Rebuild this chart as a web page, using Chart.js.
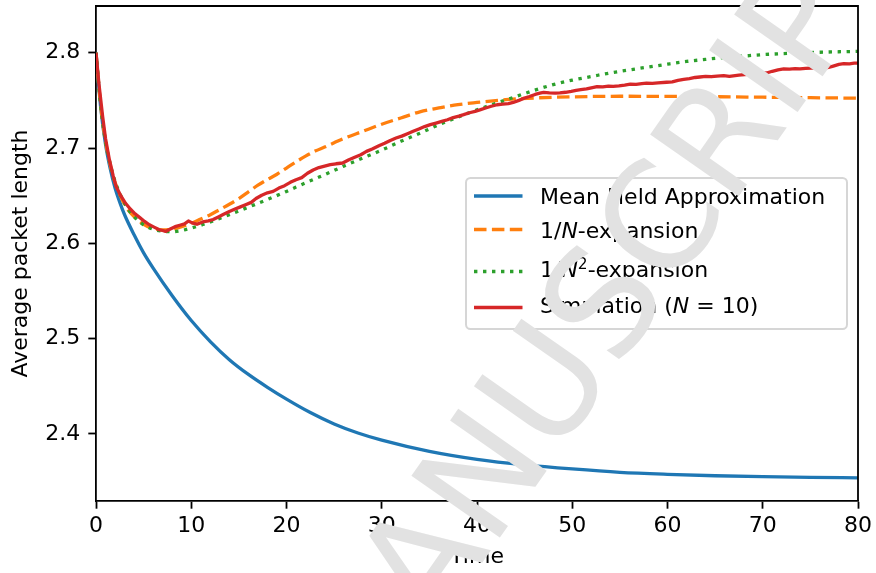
<!DOCTYPE html>
<html>
<head>
<meta charset="utf-8">
<script src="https://cdn.jsdelivr.net/npm/chart.js@4.4.0/dist/chart.umd.min.js"></script>
<style>
  html, body { margin: 0; padding: 0; background: #fff; overflow: hidden; }
  #wrap { width: 876px; height: 573px; }
</style>
</head>
<body>
<div id="wrap"><canvas id="packetChart" width="876" height="573"></canvas></div>
<script>
// time axis ticks and value axis ticks
const xTicks = [0, 10, 20, 30, 40, 50, 60, 70, 80];
const yTicks = [2.4, 2.5, 2.6, 2.7, 2.8];

// mean field approximation
const mfTime = [0, 0.5, 1, 1.5, 2, 2.5, 3, 4, 5, 6, 8, 10, 12, 14, 16, 18, 20, 22.5, 25, 27.5, 30, 35, 40, 45, 50, 55, 60, 65, 70, 75, 80];
const mfValue = [2.800, 2.742, 2.704, 2.678, 2.658, 2.643, 2.630, 2.609, 2.590, 2.574, 2.545, 2.519, 2.497, 2.478, 2.4625, 2.449, 2.4366, 2.4225, 2.4105, 2.401, 2.3935, 2.3817, 2.3734, 2.3676, 2.3633, 2.3598, 2.3577, 2.3562, 2.3552, 2.3545, 2.354];

// 1/N expansion
const firstTime = [0, 0.5, 1, 1.5, 2, 3, 4, 5, 6, 7, 8, 9, 10, 11, 12, 13, 14, 15, 16, 17, 18, 19, 20, 21, 22, 23, 24, 25, 26, 28, 30, 32, 34, 36, 38, 40, 43, 46, 50, 55, 60, 65, 70, 75, 80];
const firstValue = [2.800, 2.744, 2.707, 2.682, 2.664, 2.641, 2.628, 2.620, 2.6155, 2.614, 2.6148, 2.6175, 2.621, 2.6255, 2.630, 2.6355, 2.641, 2.647, 2.654, 2.661, 2.667, 2.6725, 2.679, 2.6855, 2.6915, 2.6968, 2.701, 2.7055, 2.710, 2.7175, 2.725, 2.7315, 2.738, 2.742, 2.7455, 2.7478, 2.7507, 2.7525, 2.7537, 2.7543, 2.7542, 2.7538, 2.7533, 2.7528, 2.7523];

// 1/N^2 expansion
const secondTime = [0, 0.5, 1, 1.5, 2, 3, 4, 5, 6, 7, 8, 9, 10, 11, 12, 13, 14, 16, 18, 20, 22, 24, 26, 28, 30, 32, 34, 36, 38, 40, 42, 44, 46, 48, 50, 52, 54, 56, 58, 60, 62, 64, 66, 68, 70, 72, 74, 76, 78, 80];
const secondValue = [2.800, 2.744, 2.707, 2.683, 2.665, 2.642, 2.628, 2.6195, 2.6148, 2.6127, 2.6122, 2.6135, 2.616, 2.619, 2.6225, 2.6262, 2.630, 2.638, 2.646, 2.6545, 2.6635, 2.672, 2.681, 2.6895, 2.6978, 2.707, 2.7155, 2.7245, 2.7325, 2.740, 2.747, 2.7537, 2.7605, 2.7665, 2.7712, 2.775, 2.7788, 2.782, 2.785, 2.788, 2.7908, 2.793, 2.795, 2.7965, 2.798, 2.799, 2.7998, 2.8005, 2.801, 2.8015];

// simulation, N = 10
const simTime = [0, 0.3, 0.7, 1.0, 1.4, 1.8, 2.1, 2.6, 3.1, 3.6, 4.1, 4.6, 5.1, 5.6, 6.1, 6.6, 7.0, 7.3, 7.8, 8.3, 8.8, 9.3, 9.7, 10.1, 10.6, 11.2, 11.8, 12.3, 12.9, 13.4, 14.0, 14.6, 15.1, 15.7, 16.3, 16.8, 17.4, 18.0, 18.6, 19.2, 19.8, 20.4, 21.0, 21.6, 22.2, 22.8, 23.4, 24.0, 24.6, 25.2, 25.9, 26.5, 27.1, 27.8, 28.4, 29.0, 29.7, 30.3, 30.9, 31.5, 32.1, 32.7, 33.3, 33.9, 34.5, 35.1, 35.7, 36.3, 36.9, 37.5, 38.1, 38.6, 39.2, 39.8, 40.3, 40.9, 41.5, 42.1, 42.7, 43.3, 43.8, 44.4, 45.0, 45.5, 46.1, 46.6, 47.0, 47.6, 48.2, 48.7, 49.3, 49.9, 50.4, 50.9, 51.5, 52.0, 52.6, 53.2, 53.8, 54.3, 54.9, 55.5, 56.1, 56.7, 57.3, 57.8, 58.4, 59.0, 59.9, 60.5, 61.1, 61.7, 62.3, 62.9, 63.4, 64.0, 64.6, 65.2, 65.9, 66.5, 66.9, 67.5, 68.1, 68.7, 69.3, 69.8, 70.4, 71.0, 71.6, 72.2, 72.8, 73.4, 73.9, 74.5, 75.1, 75.7, 76.3, 76.9, 77.4, 78.0, 78.5, 79.1, 79.6, 80.0];
const simValue = [2.800, 2.768, 2.733, 2.710, 2.688, 2.671, 2.660, 2.650, 2.642, 2.636, 2.631, 2.627, 2.623, 2.6195, 2.617, 2.6145, 2.6135, 2.6125, 2.615, 2.6175, 2.619, 2.6205, 2.6235, 2.6215, 2.620, 2.6225, 2.6235, 2.625, 2.628, 2.6305, 2.6335, 2.636, 2.638, 2.6405, 2.643, 2.647, 2.6505, 2.653, 2.6545, 2.658, 2.6605, 2.664, 2.6668, 2.669, 2.6735, 2.677, 2.6795, 2.681, 2.6825, 2.6835, 2.6843, 2.6875, 2.690, 2.693, 2.6965, 2.699, 2.7024, 2.705, 2.708, 2.7105, 2.7125, 2.715, 2.7175, 2.720, 2.7225, 2.7245, 2.7262, 2.728, 2.7297, 2.732, 2.7335, 2.735, 2.737, 2.7385, 2.740, 2.742, 2.7438, 2.7454, 2.746, 2.7465, 2.7478, 2.750, 2.7525, 2.7541, 2.7562, 2.7575, 2.7583, 2.7578, 2.7576, 2.7579, 2.7585, 2.7595, 2.7605, 2.7612, 2.762, 2.7632, 2.7645, 2.7642, 2.765, 2.7647, 2.7652, 2.766, 2.767, 2.7668, 2.7675, 2.768, 2.7678, 2.7684, 2.769, 2.7695, 2.771, 2.772, 2.7728, 2.774, 2.7745, 2.7752, 2.7748, 2.7755, 2.776, 2.7752, 2.7758, 2.7765, 2.777, 2.7775, 2.778, 2.7783, 2.7787, 2.7805, 2.782, 2.783, 2.7828, 2.7832, 2.783, 2.7835, 2.7838, 2.784, 2.7835, 2.7845, 2.786, 2.7878, 2.7885, 2.7883, 2.789, 2.789];

// legend text, split in runs: [text, italic, superscript]
const legendLabels = [
  [["Mean Field Approximation", false, false]],
  [["1/", false, false], ["N", true, false], ["-expansion", false, false]],
  [["1/", false, false], ["N", true, false], ["2", false, true], ["-expansion", false, false]],
  [["Simulation (", false, false], ["N", true, false], [" = 10)", false, false]],
];

const FONT = '"DejaVu Sans", sans-serif';
const FS = 22;

const toPoints = (xs, ys) => xs.map((x, i) => ({ x: x, y: ys[i] }));

const makeLine = (label, color, xs, ys, dash, order) => {
  return {
    label: label,
    data: toPoints(xs, ys),
    borderColor: color,
    backgroundColor: color,
    borderWidth: 3.3,
    borderDash: dash,
    borderCapStyle: "butt",
    borderJoinStyle: "round",
    pointRadius: 0,
    fill: false,
    order: order,
  };
};

const datasets = [
  makeLine("Mean Field Approximation", "#1f77b4", mfTime, mfValue, [], 3),
  makeLine("1/N-expansion", "#ff7f0e", firstTime, firstValue, [12.5, 5.4], 2),
  makeLine("1/N²-expansion", "#2ca02c", secondTime, secondValue, [3.4, 5.6], 1),
  makeLine("Simulation (N = 10)", "#d62728", simTime, simValue, [], 0),
];
// smooth the analytic curves, keep the simulation raw
for (let i = 0; i < 3; i++) {
  datasets[i].cubicInterpolationMode = "monotone";
}

// draws the top and right spines like the other two axes
const framePlugin = {
  id: "frame",
  afterDatasetsDraw(chart) {
    const { ctx, chartArea } = chart;
    ctx.save();
    ctx.strokeStyle = "#000";
    ctx.lineWidth = 1.8;
    ctx.beginPath();
    ctx.moveTo(chartArea.left, chartArea.top);
    ctx.lineTo(chartArea.right, chartArea.top);
    ctx.lineTo(chartArea.right, chartArea.bottom);
    ctx.stroke();
    ctx.restore();
  },
};

// legend box inside the plot
const boxLegendPlugin = {
  id: "boxLegend",
  afterDatasetsDraw(chart) {
    const ctx = chart.ctx;
    const box = { x: 466, y: 178, w: 381, h: 151, r: 4.5 };
    const lineY = [196, 229.5, 271.5, 307.5];
    const textY = [204.3, 237.7, 277, 312.5];
    ctx.save();
    ctx.beginPath();
    ctx.roundRect(box.x, box.y, box.w, box.h, box.r);
    ctx.fillStyle = "rgba(255,255,255,0.8)";
    ctx.fill();
    ctx.lineWidth = 2;
    ctx.strokeStyle = "#d6d6d6";
    ctx.stroke();

    chart.data.datasets.forEach((ds, i) => {
      ctx.beginPath();
      ctx.setLineDash(ds.borderDash);
      ctx.lineCap = "butt";
      ctx.lineWidth = ds.borderWidth;
      ctx.strokeStyle = ds.borderColor;
      ctx.moveTo(474, lineY[i]);
      ctx.lineTo(522.5, lineY[i]);
      ctx.stroke();
      ctx.setLineDash([]);

      let x = 540;
      ctx.fillStyle = "#000";
      ctx.textBaseline = "alphabetic";
      ctx.textAlign = "left";
      legendLabels[i].forEach(([txt, italic, sup]) => {
        const size = sup ? FS * 0.7 : FS;
        ctx.font = (italic ? "italic " : "") + size + "px " + FONT;
        ctx.fillText(txt, x, textY[i] - (sup ? 8 : 0));
        x += ctx.measureText(txt).width;
      });
    });
    ctx.restore();
  },
};

// grey diagonal watermark over everything
const watermarkPlugin = {
  id: "watermark",
  afterDraw(chart) {
    const ctx = chart.ctx;
    ctx.save();
    ctx.font = "148px " + FONT;
    ctx.fillStyle = "rgb(226,226,226)";
    ctx.translate(671, 293);
    ctx.rotate((-55 * Math.PI) / 180);
    ctx.textBaseline = "alphabetic";
    ctx.textAlign = "left";
    const lead = ctx.measureText("MANUS").width;
    ctx.fillText("MANUSCRIPT", -lead, 0);
    ctx.restore();
  },
};

const axisLook = {
  grid: {
    drawOnChartArea: false,
    drawTicks: true,
    tickLength: 7.7,
    tickWidth: 1.8,
    tickColor: "#000",
  },
  border: { display: true, color: "#000", width: 1.8 },
};

const zeroPadding = (scale) => {
  scale.paddingTop = 0;
  scale.paddingBottom = 0;
  scale.paddingLeft = 0;
  scale.paddingRight = 0;
};

const config = {
  type: "line",
  data: { datasets: datasets },
  options: {
    responsive: false,
    animation: false,
    devicePixelRatio: 1,
    parsing: false,
    layout: { padding: { left: 0, right: 18, top: 6, bottom: 0 } },
    plugins: {
      legend: { display: false },
      tooltip: { enabled: false },
    },
    scales: {
      x: {
        type: "linear",
        min: 0,
        max: 80,
        ...axisLook,
        afterBuildTicks: (scale) => {
          scale.ticks = xTicks.map((v) => ({ value: v }));
        },
        afterFit: (scale) => {
          scale.height = 72;
          zeroPadding(scale);
        },
        ticks: {
          color: "#000",
          padding: 4,
          maxRotation: 0,
          font: { family: FONT, size: FS },
          callback: (v) => String(v),
        },
        title: {
          display: true,
          text: "Time",
          color: "#000",
          font: { family: FONT, size: FS },
          padding: { top: 0, bottom: 2.5 },
        },
      },
      y: {
        type: "linear",
        min: 2.3297,
        max: 2.849,
        ...axisLook,
        afterBuildTicks: (scale) => {
          scale.ticks = yTicks.map((v) => ({ value: v }));
        },
        afterFit: (scale) => {
          scale.width = 96;
          zeroPadding(scale);
        },
        ticks: {
          color: "#000",
          padding: 8,
          font: { family: FONT, size: FS },
          callback: (v) => Number(v).toFixed(1),
        },
        title: {
          display: true,
          text: "Average packet length",
          color: "#000",
          font: { family: FONT, size: FS },
          padding: { top: 8, bottom: 0 },
        },
      },
    },
  },
  plugins: [framePlugin, boxLegendPlugin, watermarkPlugin],
};

// eslint-disable-next-line no-undef
const packetChart = new Chart(document.getElementById("packetChart"), config);
</script>
</body>
</html>
